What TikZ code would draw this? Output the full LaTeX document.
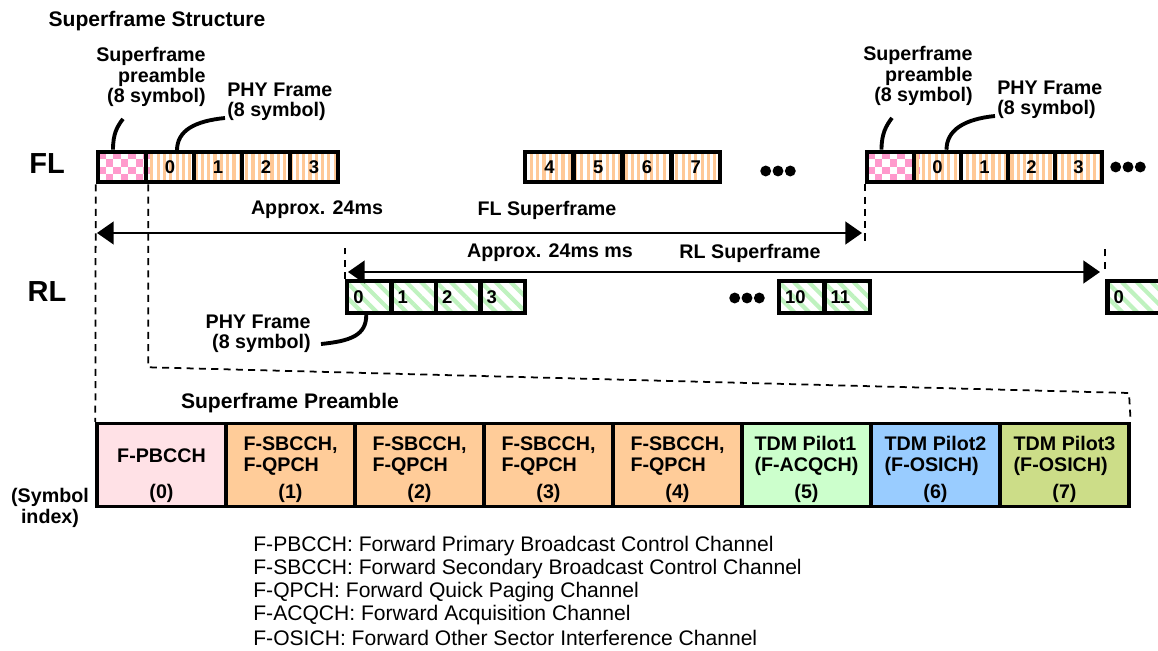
\documentclass[tikz,border=0pt]{standalone}
\usepackage{fontspec}
\setmainfont{Liberation Sans}
\usetikzlibrary{arrows.meta,patterns.meta}
\definecolor{orfill}{HTML}{FFCC99}
\definecolor{pkfill}{HTML}{FFE1E6}
\definecolor{gnfill}{HTML}{CCFFCC}
\definecolor{blfill}{HTML}{99CCFF}
\definecolor{olfill}{HTML}{CCDD88}
\definecolor{ckpink}{HTML}{FF99CC}
\definecolor{orstripe}{HTML}{FFC896}
\definecolor{gnstripe}{HTML}{BFF2BF}
\tikzset{
  lab/.style={font=\bfseries\fontsize{11.2}{11.6}\selectfont, inner sep=0pt},
  big/.style={font=\bfseries\fontsize{16.5}{18}\selectfont, inner sep=0pt},
  leg/.style={font=\fontsize{12}{13}\selectfont, anchor=west, inner sep=0pt},
  digit/.style={font=\bfseries\fontsize{10.5}{11}\selectfont, inner sep=0pt},
  prebox/.style={draw, line width=2.6pt, minimum width=0.96cm, minimum height=0.6cm, inner sep=0pt},
  flbox/.style={prebox, digit, pattern={Lines[angle=90,distance=3.6pt,line width=1.8pt]}, pattern color=orstripe},
  rlbox/.style={draw, line width=2.6pt, minimum width=0.89cm, minimum height=0.64cm, inner sep=0pt,
    pattern={Lines[angle=-45,distance=6pt,line width=2.4pt]}, pattern color=gnstripe,
    label={[digit,anchor=west,xshift=0.16cm]west:#1}},
  spbox/.style={draw, line width=1.9pt, minimum width=2.58cm, minimum height=1.66cm, inner sep=0pt, fill=#1},
  dashln/.style={line width=1pt, dash pattern=on 4pt off 3pt},
  span/.style={line width=1.1pt, {Triangle[length=9.5pt,width=13pt]}-{Triangle[length=9.5pt,width=13pt]}},
  callout/.style={line width=2.2pt},
}
\begin{document}
\begin{tikzpicture}[x=0.02cm, y=-0.02cm]
\useasboundingbox (0,0) rectangle (1158,651);

\node[lab, font=\bfseries\fontsize{12}{13}\selectfont] (title) at (157,21) {Superframe Structure};
\node[big] (fl) at (47,164) {FL};
\node[big] (rl) at (47,292) {RL};

% checkered preambles
\foreach \px in {98,867} \foreach \i in {0,...,6} \foreach \j in {0,...,3} {
  \pgfmathtruncatemacro\odd{mod(\i+\j,2)}
  \ifnum\odd=0 \fill[ckpink] ({\px+7.5*\i},{152+7.5*\j}) rectangle ++(7.5,7.5); \fi
}

% FL frames
\node[prebox] (fpre) at (122,167) {};
\foreach \i in {0,...,3} \node[flbox] (fa\i) at ({170+48*\i},167) {\i};
\foreach \i in {4,...,7} \node[flbox, minimum width=0.975cm] (fa\i) at ({549.4+48.75*(\i-4)},167) {\i};
\node[prebox, minimum width=0.94cm] (rpre) at (890.5,167) {};
\foreach \i in {0,...,3} \node[flbox, minimum width=0.94cm] (fb\i) at ({937.5+47*\i},167) {\i};

% RL frames
\foreach \i in {0,...,3} \node[rlbox=\i] (ra\i) at ({369.25+44.5*\i},297) {};
\node[rlbox=10, minimum width=0.91cm] (ra10) at (801.75,297) {};
\node[rlbox=11, minimum width=0.91cm] (ra11) at (847.25,297) {};
\node[rlbox=0, minimum width=1.1cm] (rb0) at (1135,297) {};

% dots
\foreach \c/\yy in {778/171, 1128/167, 747/298} \foreach \d in {-12.3,0,12.3}
  \fill ({\c+\d},\yy) circle (3.1pt);

% callouts
\node[lab, align=right, anchor=east] (prelab) at (206,77) {Superframe\\preamble\\(8 symbol)};
\node[lab, align=left, anchor=west] (phylab) at (227,102) {PHY Frame\\(8 symbol)};
\node[lab, align=right, anchor=east] (prelab2) at (973,76) {Superframe\\preamble\\(8 symbol)};
\node[lab, align=left, anchor=west] (phylab2) at (997,100) {PHY Frame\\(8 symbol)};
\node[lab, align=right, anchor=east] (phylab3) at (311,334) {PHY Frame\\(8 symbol)};

\coordinate (pre1) at ([shift={(-28,12)}]prelab.south);
\coordinate (pre2) at ([shift={(-26,12)}]prelab2.south);
\coordinate (phy1) at ([shift={(-2,16)}]phylab.west);
\coordinate (phy2) at ([shift={(-2,16)}]phylab2.west);
\coordinate (phy3) at ([shift={(10,10)}]phylab3.east);
\draw[callout] (pre1) .. controls +(-6,8) and +(0,-16) .. ([xshift=-0.18cm]fpre.north);
\draw[callout] (pre2) .. controls +(-6,8) and +(0,-16) .. ([xshift=-0.18cm]rpre.north);
\draw[callout] (phy1) .. controls +(-30,3) and +(0,-20) .. ([xshift=0.14cm]fa0.north);
\draw[callout] (phy2) .. controls +(-30,3) and +(0,-20) .. ([xshift=0.18cm]fb0.north);
\draw[callout] (phy3) .. controls +(30,-3) and +(0,20) .. ([xshift=-0.06cm]ra0.south);

% superframe spans
\coordinate (flL) at (97,233);
\coordinate (flR) at (862,233);
\coordinate (rlL) at (348,272);
\coordinate (rlR) at (1100,272);
\draw[span] (flL) -- (flR);
\draw[span] (rlL) -- (rlR);
\node[lab] (fltime) at (317,210) {Approx. 24ms};
\node[lab] (flname) at (547,210) {FL Superframe};
\node[lab] (rltime) at (550,253) {Approx. 24ms ms};
\node[lab] (rlname) at (750,253) {RL Superframe};

% preamble symbols
\node[lab, font=\bfseries\fontsize{12}{13}\selectfont] (pretitle) at (290,403) {Superframe Preamble};
\foreach \i/\c in {0/pkfill,1/orfill,2/orfill,3/orfill,4/orfill,5/gnfill,6/blfill,7/olfill}
  \node[spbox=\c] (sp\i) at ({161.5+129*\i},465) {};
\foreach \i/\t in {0/F-PBCCH, 1/{F-SBCCH,\\F-QPCH}, 2/{F-SBCCH,\\F-QPCH}, 3/{F-SBCCH,\\F-QPCH},
    4/{F-SBCCH,\\F-QPCH}, 5/{TDM Pilot1\\(F-ACQCH)}, 6/{TDM Pilot2\\(F-OSICH)}, 7/{TDM Pilot3\\(F-OSICH)}} {
  \node[lab, align=left] (spn\i) at ([yshift=0.18cm]sp\i.center) {\t};
  \node[lab] (spi\i) at ([yshift=-0.56cm]sp\i.center) {(\i)};
}
\node[lab, align=center] (symidx) at (50,508) {(Symbol\\index)};

% zoom lines
\coordinate (zr) at (1129,393);
\draw[dashln] (fpre.south west) -- (sp0.north west);
\draw[dashln] (fpre.south east) -- ++(0,183) -- (zr) -- (sp7.north east);
\draw[dashln] (rpre.south west) -- ++(0,58);
\draw[dashln] (ra0.north west) -- ++(0,-31);
\draw[dashln] ([yshift=0.2cm]rb0.north west) -- ++(0,-22);

% legend
\foreach \k/\t in {0/{F-PBCCH: Forward Primary Broadcast Control Channel},
    1/{F-SBCCH: Forward Secondary Broadcast Control Channel},
    2/{F-QPCH: Forward Quick Paging Channel},
    3/{F-ACQCH: Forward Acquisition Channel},
    4/{F-OSICH: Forward Other Sector Interference Channel}}
  \node[leg] (leg\k) at (253,{546+23*\k}) {\t};
\end{tikzpicture}
\end{document}
